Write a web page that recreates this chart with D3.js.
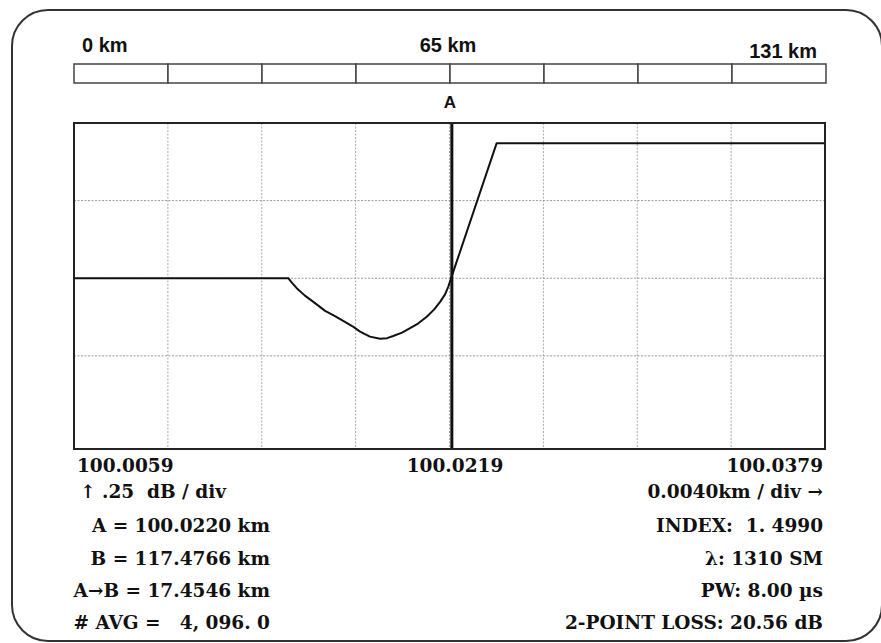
<!DOCTYPE html>
<html>
<head>
<meta charset="utf-8">
<script src="https://cdn.jsdelivr.net/npm/d3@7"></script>
<style>
  html, body { margin: 0; padding: 0; background: #fff; }
  svg { display: block; }
  .sans { font-family: "Liberation Sans", Arial, sans-serif; font-weight: bold; fill: #111; }
  .serif { font-family: "DejaVu Serif", serif; font-weight: bold; fill: #111; }
</style>
</head>
<body>
<div class="workspace"></div>
<script>
// trace (km, dB relative)
const traceKm = [
  100.0059, 100.01503, 100.01519, 100.01539, 100.01574, 100.0161, 100.0166,
  100.01702, 100.01737, 100.01775, 100.01809, 100.01851, 100.01894, 100.01924,
  100.0195, 100.01988, 100.02022, 100.02056, 100.02093, 100.02124, 100.0215,
  100.02171, 100.02185, 100.02199, 100.02391, 100.0379
];
const traceDb = [
  0.50, 0.50, 0.485, 0.468, 0.444, 0.424, 0.395,
  0.378, 0.363, 0.346, 0.328, 0.312, 0.305, 0.307,
  0.314, 0.325, 0.339, 0.354, 0.376, 0.399, 0.424,
  0.448, 0.473, 0.505, 0.935, 0.935
];

const xStart = 100.0059;
const xEnd = 100.0379;
const kmPerDiv = 0.004;
const dbGrid = [0.25, 0.5, 0.75];
const xTickLabels = ['100.0059', '100.0219', '100.0379'];
const markerA = 100.022;

const rangeLabels = ['0 km', '65 km', '131 km'];
const rangeSegments = 8;

const nb = '\u00a0';
const scaleInfo = ['\u2191 .25' + nb + nb + 'dB / div', '0.0040km / div \u2192'];
const leftInfo = ['A = 100.0220 km', 'B = 117.4766 km', 'A\u2192B = 17.4546 km', '# AVG =' + nb + nb + nb + '4, 096. 0'];
const rightInfo = ['INDEX:' + nb + nb + '1. 4990', '\u03bb: 1310 SM', 'PW: 8.00 \u00b5s', '2-POINT LOSS: 20.56 dB'];

const width = 881;
const height = 643;
const plot = { left: 74, right: 825, top: 123, bottom: 449 };
const textSize = '18.5px';

const svg = d3.select('.workspace')
  .append('svg')
  .attr('width', width)
  .attr('height', height);

// outer rounded frame, runs off the right edge a little
svg.append('rect')
  .attr('x', 12).attr('y', 10)
  .attr('width', 870).attr('height', 631)
  .attr('rx', 36).attr('ry', 36)
  .style('fill', 'none')
  .style('stroke', '#333')
  .style('stroke-width', 2);

// range bar at the top
const barScale = d3.scaleLinear().domain([0, rangeSegments]).range([74, 826]);
svg.selectAll('rect.seg')
  .data(d3.range(rangeSegments))
  .enter()
  .append('rect')
  .attr('class', 'seg')
  .attr('x', d => barScale(d))
  .attr('y', 64)
  .attr('width', d => barScale(d + 1) - barScale(d))
  .attr('height', 19)
  .style('fill', '#fff')
  .style('stroke', '#444')
  .style('stroke-width', 1.5);

svg.append('text').attr('class', 'sans').attr('x', 82).attr('y', 52)
  .style('font-size', '20px').text(rangeLabels[0]);
svg.append('text').attr('class', 'sans').attr('x', 448).attr('y', 52)
  .attr('text-anchor', 'middle').style('font-size', '20px').text(rangeLabels[1]);
svg.append('text').attr('class', 'sans').attr('x', 817).attr('y', 58)
  .attr('text-anchor', 'end').style('font-size', '20px').text(rangeLabels[2]);

// scales
const x = d3.scaleLinear().domain([xStart, xEnd]).range([plot.left, plot.right]);
const y = d3.scaleLinear().domain([-0.05, 1.0]).range([plot.bottom, plot.top]);

// grid
const vTicks = d3.range(1, 8).map(i => xStart + i * kmPerDiv);
svg.selectAll('line.vgrid')
  .data(vTicks)
  .enter()
  .append('line')
  .attr('class', 'vgrid')
  .attr('x1', d => x(d)).attr('x2', d => x(d))
  .attr('y1', plot.top).attr('y2', plot.bottom)
  .style('stroke', '#aaa')
  .style('stroke-width', 1)
  .style('stroke-dasharray', '2,1.5');

svg.selectAll('line.hgrid')
  .data(dbGrid)
  .enter()
  .append('line')
  .attr('class', 'hgrid')
  .attr('x1', plot.left).attr('x2', plot.right)
  .attr('y1', d => y(d)).attr('y2', d => y(d))
  .style('stroke', '#999')
  .style('stroke-width', 1)
  .style('stroke-dasharray', '2,1.5');

// trace
const line = d3.line()
  .x(d => x(d[0]))
  .y(d => y(d[1]));

svg.append('path')
  .datum(d3.zip(traceKm, traceDb))
  .attr('d', line)
  .style('fill', 'none')
  .style('stroke', '#111')
  .style('stroke-width', 2)
  .style('stroke-linejoin', 'round');

// marker A
svg.append('line')
  .attr('x1', x(markerA)).attr('x2', x(markerA))
  .attr('y1', plot.top).attr('y2', plot.bottom)
  .style('stroke', '#111')
  .style('stroke-width', 3);
svg.append('text').attr('class', 'sans')
  .attr('x', x(markerA) - 2).attr('y', 108)
  .attr('text-anchor', 'middle')
  .style('font-size', '17px')
  .text('A');

// plot frame
svg.append('rect')
  .attr('x', plot.left).attr('y', plot.top)
  .attr('width', plot.right - plot.left)
  .attr('height', plot.bottom - plot.top)
  .style('fill', 'none')
  .style('stroke', '#222')
  .style('stroke-width', 2);

// x labels
svg.append('text').attr('class', 'serif').attr('x', 77).attr('y', 472)
  .style('font-size', textSize).text(xTickLabels[0]);
svg.append('text').attr('class', 'serif').attr('x', 455).attr('y', 472)
  .attr('text-anchor', 'middle').style('font-size', textSize).text(xTickLabels[1]);
svg.append('text').attr('class', 'serif').attr('x', 823).attr('y', 472)
  .attr('text-anchor', 'end').style('font-size', textSize).text(xTickLabels[2]);

// scale readouts
svg.append('text').attr('class', 'serif').attr('x', 80).attr('y', 498)
  .style('font-size', textSize).text(scaleInfo[0]);
svg.append('text').attr('class', 'serif').attr('x', 823).attr('y', 498)
  .attr('text-anchor', 'end').style('font-size', textSize).text(scaleInfo[1]);

const rowY = [532, 565, 597, 629];
svg.selectAll('text.left')
  .data(leftInfo)
  .enter()
  .append('text')
  .attr('class', 'serif left')
  .attr('x', 270)
  .attr('y', (d, i) => rowY[i])
  .attr('text-anchor', 'end')
  .style('font-size', textSize)
  .text(d => d);

svg.selectAll('text.right')
  .data(rightInfo)
  .enter()
  .append('text')
  .attr('class', 'serif right')
  .attr('x', 823)
  .attr('y', (d, i) => rowY[i])
  .attr('text-anchor', 'end')
  .style('font-size', textSize)
  .text(d => d);
</script>
</body>
</html>
